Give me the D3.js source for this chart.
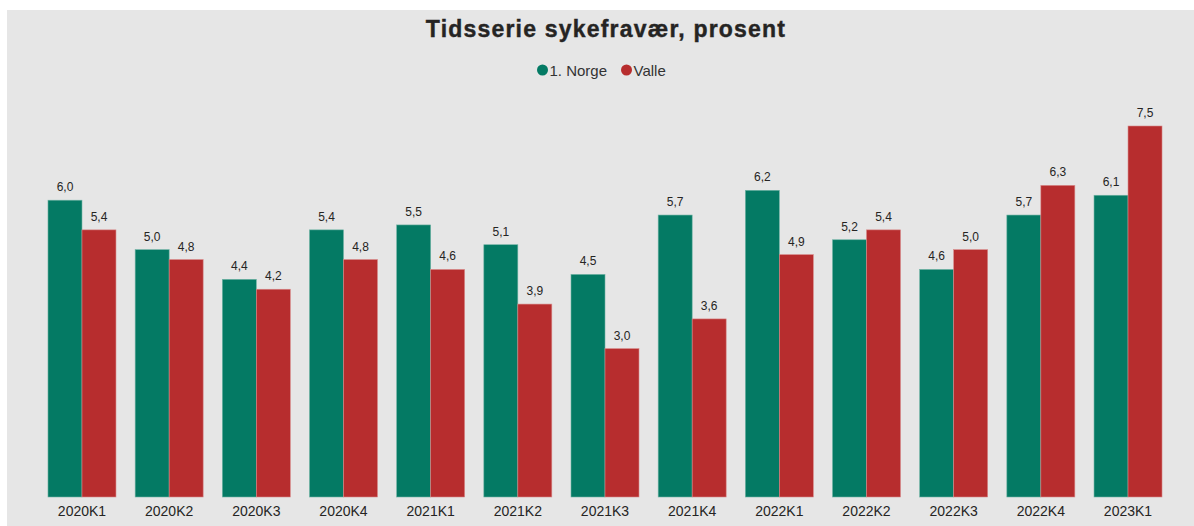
<!DOCTYPE html>
<html lang="no">
<head>
<meta charset="UTF-8"/>
<title>Tidsserie sykefravær</title>
<style>
  body { margin: 0; background: #ffffff; }
  svg { display: block; }
</style>
<script src="https://d3js.org/d3.v7.min.js"></script>
</head>
<body>
<div id="chart"></div>
<script>
// data
var categories = ["2020K1", "2020K2", "2020K3", "2020K4", "2021K1", "2021K2", "2021K3",
                  "2021K4", "2022K1", "2022K2", "2022K3", "2022K4", "2023K1"];
var seriesNames = ["1. Norge", "Valle"];
var norge = [6.0, 5.0, 4.4, 5.4, 5.5, 5.1, 4.5, 5.7, 6.2, 5.2, 4.6, 5.7, 6.1];
var valle = [5.4, 4.8, 4.2, 4.8, 4.6, 3.9, 3.0, 3.6, 4.9, 5.4, 5.0, 6.3, 7.5];
var colors = ["#047a64", "#b72d2e"];

var w = 1194, h = 526;

var svg = d3.select("#chart").append("svg")
    .attr("width", w)
    .attr("height", h);

// panel background
svg.append("rect")
    .attr("x", 7).attr("y", 10)
    .attr("width", w - 7).attr("height", h - 10)
    .attr("fill", "#e6e6e6");

// title
svg.append("text")
    .attr("x", 606).attr("y", 37)
    .attr("text-anchor", "middle")
    .attr("font-family", "Liberation Sans, Arial, sans-serif")
    .attr("font-weight", "bold")
    .attr("font-size", "23px")
    .attr("letter-spacing", "1.2px")
    .attr("stroke", "#252423")
    .attr("stroke-width", 0.4)
    .attr("fill", "#252423")
    .text("Tidsserie sykefravær, prosent");

// legend
var legendX = [542.5, 626.5];
var legend = svg.selectAll(".legend")
    .data(seriesNames)
    .enter().append("g")
    .attr("class", "legend")
    .attr("transform", function(d, i) { return "translate(" + legendX[i] + ",70)"; });
legend.append("circle")
    .attr("r", 5.5)
    .attr("fill", function(d, i) { return colors[i]; });
legend.append("text")
    .attr("x", 7).attr("y", 5.5)
    .attr("font-family", "Liberation Sans, Arial, sans-serif")
    .attr("font-size", "15px")
    .attr("fill", "#333333")
    .text(function(d) { return d; });

// scales
var xScale = d3.scaleBand()
    .domain(categories)
    .range([38.4, 1171.6])
    .paddingInner(0.22)
    .paddingOuter(0.11);

var xSub = d3.scaleBand()
    .domain(d3.range(seriesNames.length))
    .range([0, xScale.bandwidth()]);

var yScale = d3.scaleLinear()
    .domain([0, 7.5])
    .range([497, 126]);

var rows = categories.map(function(c, i) {
    return { cat: c, values: [norge[i], valle[i]] };
});

var fmt = function(v) { return v.toFixed(1).replace(".", ","); };

var groups = svg.selectAll(".group")
    .data(rows)
    .enter().append("g")
    .attr("class", "group")
    .attr("transform", function(d) { return "translate(" + xScale(d.cat) + ",0)"; });

groups.selectAll("rect")
    .data(function(d) { return d.values; })
    .enter().append("rect")
    .attr("x", function(d, i) { return xSub(i); })
    .attr("y", function(d) { return yScale(d); })
    .attr("width", xSub.bandwidth())
    .attr("height", function(d) { return yScale(0) - yScale(d); })
    .attr("fill", function(d, i) { return colors[i]; })
    .attr("stroke", function(d, i) { return i === 0 ? "#6fb3a4" : "#d88a8a"; })
    .attr("stroke-width", 0.6);

groups.selectAll(".val")
    .data(function(d) { return d.values; })
    .enter().append("text")
    .attr("class", "val")
    .attr("x", function(d, i) { return xSub(i) + xSub.bandwidth() / 2; })
    .attr("y", function(d) { return yScale(d) - 9; })
    .attr("text-anchor", "middle")
    .attr("font-family", "Liberation Sans, Arial, sans-serif")
    .attr("font-size", "12px")
    .attr("fill", "#252423")
    .text(fmt);

// x axis labels
var xAxis = d3.axisBottom(xScale).tickSize(0).tickPadding(9);
var ax = svg.append("g")
    .attr("transform", "translate(0,497)")
    .call(xAxis);
ax.select(".domain").remove();
ax.selectAll("text")
    .attr("font-family", "Liberation Sans, Arial, sans-serif")
    .attr("font-size", "14px")
    .attr("fill", "#252423");
</script>
</body>
</html>
